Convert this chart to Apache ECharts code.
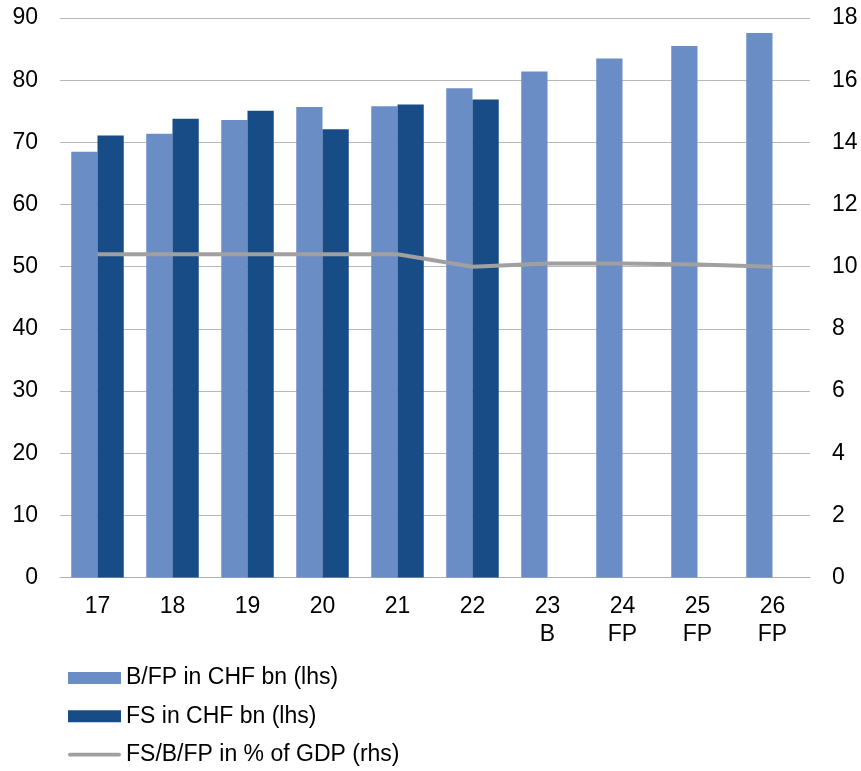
<!DOCTYPE html>
<html>
<head>
<meta charset="utf-8">
<script src="https://cdn.jsdelivr.net/npm/echarts@6/dist/echarts.min.js"></script>
<style>
  html, body { margin: 0; padding: 0; background: #fff; }
  #chart { width: 861px; height: 771px; }
</style>
</head>
<body>
<div id="chart"></div>
<script>
// Years (with budget / financial plan markers)
const categories = ['17', '18', '19', '20', '21', '22', '23\nB', '24\nFP', '25\nFP', '26\nFP'];
// Budget / financial plan, CHF bn (left axis)
const budgetValues = [68.5, 71.4, 73.6, 75.7, 75.8, 78.7, 81.4, 83.5, 85.5, 87.6];
// Financial statements, CHF bn (left axis)
const statementValues = [71.1, 73.8, 75.1, 72.1, 76.1, 76.9, null, null, null, null];
// Share of GDP in % (right axis)
const gdpShareValues = [10.4, 10.4, 10.4, 10.4, 10.4, 10.0, 10.1, 10.1, 10.07, 10.0];
const leftTicks = { min: 0, max: 90, interval: 10 };
const rightTicks = { min: 0, max: 18, interval: 2 };

const font = 'Liberation Sans, Arial, sans-serif';
// thick rounded stroke used as the legend key of the line series
const lineKey = 'path://M2,0 L54,0 A2,2 0 0 1 54,4 L2,4 A2,2 0 0 1 2,0 Z';

const chart = echarts.init(document.getElementById('chart'), null, { renderer: 'canvas' });

chart.setOption({
  animation: false,
  textStyle: { fontFamily: font },
  grid: { left: 60, right: 51, top: 18, bottom: 193.5 },
  legend: {
    orient: 'vertical',
    left: 68,
    top: 666,
    padding: 0,
    itemWidth: 53,
    itemHeight: 12,
    itemGap: 14.3,
    symbolKeepAspect: true,
    textStyle: { fontSize: 23, lineHeight: 24, color: '#000', fontFamily: font },
    data: [
      { name: 'B/FP in CHF bn (lhs)', icon: 'rect' },
      { name: 'FS in CHF bn (lhs)', icon: 'rect' },
      { name: 'FS/B/FP in % of GDP (rhs)', icon: lineKey }
    ]
  },
  xAxis: {
    type: 'category',
    data: categories,
    axisLine: { lineStyle: { color: '#b0b0b0', width: 1 } },
    axisTick: { show: false },
    axisLabel: { color: '#000', fontSize: 23, fontFamily: font, margin: 15, lineHeight: 28 }
  },
  yAxis: [
    {
      type: 'value',
      min: leftTicks.min, max: leftTicks.max, interval: leftTicks.interval,
      axisLine: { show: false },
      axisTick: { show: false },
      splitLine: { lineStyle: { color: '#b8b8b8', width: 1 } },
      axisLabel: { color: '#000', fontSize: 23, fontFamily: font, margin: 22 }
    },
    {
      type: 'value',
      min: rightTicks.min, max: rightTicks.max, interval: rightTicks.interval,
      axisLine: { show: false },
      axisTick: { show: false },
      splitLine: { show: false },
      axisLabel: { color: '#000', fontSize: 23, fontFamily: font, margin: 22 }
    }
  ],
  series: [
    {
      name: 'B/FP in CHF bn (lhs)',
      type: 'bar',
      data: budgetValues,
      barGap: '0%',
      barCategoryGap: '30%',
      itemStyle: { color: '#6a8dc6' }
    },
    {
      name: 'FS in CHF bn (lhs)',
      type: 'bar',
      data: statementValues,
      barGap: '0%',
      barCategoryGap: '30%',
      itemStyle: { color: '#174c87' }
    },
    {
      name: 'FS/B/FP in % of GDP (rhs)',
      type: 'line',
      yAxisIndex: 1,
      data: gdpShareValues,
      symbol: 'none',
      lineStyle: { color: '#a0a0a0', width: 4 },
      itemStyle: { color: '#a0a0a0' }
    }
  ]
});
</script>
</body>
</html>
